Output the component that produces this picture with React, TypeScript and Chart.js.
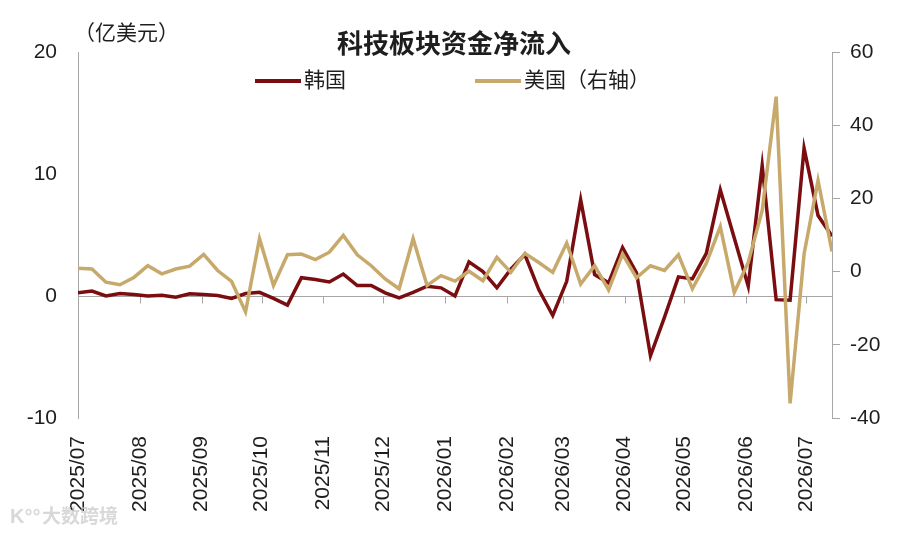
import React, { useEffect, useRef } from "react";
import { Chart, registerables } from "chart.js";

Chart.register(...registerables);

// ---- data ----
const weekDates = [
  "2025-07-04", "2025-07-11", "2025-07-18", "2025-07-25",
  "2025-08-01", "2025-08-08", "2025-08-15", "2025-08-22", "2025-08-29",
  "2025-09-05", "2025-09-12", "2025-09-19", "2025-09-26",
  "2025-10-03", "2025-10-10", "2025-10-17", "2025-10-24", "2025-10-31",
  "2025-11-07", "2025-11-14", "2025-11-21", "2025-11-28",
  "2025-12-05", "2025-12-12", "2025-12-19", "2025-12-26",
  "2026-01-02", "2026-01-09", "2026-01-16", "2026-01-23", "2026-01-30",
  "2026-02-06", "2026-02-13", "2026-02-20", "2026-02-27",
  "2026-03-06", "2026-03-13", "2026-03-20", "2026-03-27",
  "2026-04-03", "2026-04-10", "2026-04-17", "2026-04-24",
  "2026-05-01", "2026-05-08", "2026-05-15", "2026-05-22", "2026-05-29",
  "2026-06-05", "2026-06-12", "2026-06-19", "2026-06-26",
  "2026-07-03", "2026-07-10", "2026-07-17",
];

// 韩国 (亿美元, left axis)
const koreaFlow = [
  0.26, 0.4, 0.0, 0.2, 0.12, 0.0, 0.07, -0.1, 0.18, 0.12, 0.04, -0.2, 0.2,
  0.3, -0.2, -0.75, 1.5, 1.35, 1.15, 1.8, 0.86, 0.86, 0.26, -0.15, 0.3,
  0.8, 0.67, 0.0, 2.8, 2.0, 0.67, 2.2, 3.4, 0.53, -1.6, 1.2, 7.9,
  1.76, 1.08, 3.96, 1.9, -4.9, -1.76, 1.57, 1.4, 3.5, 8.7, 4.75, 0.8,
  10.7, -0.3, -0.35, 12.1, 6.6, 4.9,
];

// 美国 (亿美元, right axis)
const usFlow = [
  0.9, 0.7, -2.9, -3.6, -1.6, 1.6, -0.6, 0.7, 1.5, 4.7, 0.3, -2.7, -11,
  9.0, -3.8, 4.6, 4.8, 3.3, 5.3, 9.9, 4.6, 1.6, -2.0, -4.7, 9.0,
  -3.8, -1.1, -2.6, 0.1, -2.5, 3.9, -0.2, 5.0, 2.5, -0.2, 7.8, -3.4,
  1.6, -5.0, 4.8, -1.7, 1.6, 0.3, 4.6, -4.7, 2.3, 12.3, -5.7, 2.5,
  16.7, 47.8, -36, 4.8, 24.9, 5.5,
];

const monthTickDates = [
  "2025-07-04", "2025-08-04", "2025-09-04", "2025-10-04", "2025-11-04",
  "2025-12-04", "2026-01-04", "2026-02-04", "2026-03-04", "2026-04-04",
  "2026-05-04", "2026-06-04", "2026-07-04",
];
const monthTickLabels = [
  "2025/07", "2025/08", "2025/09", "2025/10", "2025/11", "2025/12",
  "2026/01", "2026/02", "2026/03", "2026/04", "2026/05", "2026/06", "2026/07",
];

const seriesNames = ["韩国", "美国（右轴）"];
const chartTitle = "科技板块资金净流入";
const unitLabel = "（亿美元）";
const watermark = "大数跨境";

const leftMin = -10, leftMax = 20, leftStep = 10;
const rightMin = -40, rightMax = 60, rightStep = 20;

// ---- styles ----
const RED = "#7a0d10";
const TAN = "#c8a96c";
const AXIS = "#a6a6a6";
const TEXT = "#1e1e1e";
const FONT = '"Liberation Sans", "Noto Sans CJK SC", Arial, sans-serif';

const DAY = 86400000;
const t0 = Date.parse(weekDates[0]);
const toDay = (d: string) => (Date.parse(d) - t0) / DAY;

const overlayPlugin = {
  id: "overlay",
  beforeDatasetsDraw(chart: any) {
    const { ctx, chartArea, scales } = chart;
    const y0 = Math.round(scales.y.getPixelForValue(0)) + 0.5;
    ctx.save();
    ctx.strokeStyle = AXIS;
    ctx.lineWidth = 1;
    ctx.beginPath();
    ctx.moveTo(chartArea.left, y0);
    ctx.lineTo(chartArea.right, y0);
    scales.x.ticks.forEach((t: any) => {
      const x = Math.round(scales.x.getPixelForValue(t.value)) + 0.5;
      ctx.moveTo(x, y0);
      ctx.lineTo(x, y0 + 7);
    });
    ctx.stroke();
    ctx.restore();
  },
  afterDraw(chart: any) {
    const { ctx } = chart;
    ctx.save();
    // title
    ctx.fillStyle = TEXT;
    ctx.font = `bold 26px ${FONT}`;
    ctx.textAlign = "center";
    ctx.textBaseline = "middle";
    ctx.fillText(chartTitle, 454, 46);
    // unit
    ctx.font = `21px ${FONT}`;
    ctx.textAlign = "left";
    ctx.fillText(unitLabel, 74, 34);
    // legend
    const items = [
      { name: seriesNames[0], color: RED, x: 255 },
      { name: seriesNames[1], color: TAN, x: 475 },
    ];
    items.forEach((it) => {
      ctx.strokeStyle = it.color;
      ctx.lineWidth = 4;
      ctx.beginPath();
      ctx.moveTo(it.x, 81);
      ctx.lineTo(it.x + 46, 81);
      ctx.stroke();
      ctx.fillStyle = TEXT;
      ctx.font = `21px ${FONT}`;
      ctx.textAlign = "left";
      ctx.textBaseline = "middle";
      ctx.fillText(it.name, it.x + 49, 81);
    });
    // watermark
    ctx.fillStyle = "rgba(200,200,200,0.7)";
    ctx.font = `bold 19px ${FONT}`;
    ctx.fillText(watermark, 42, 518);
    ctx.font = `bold 20px ${FONT}`;
    ctx.fillText("K°°", 10, 517);
    ctx.restore();
  },
};

export default function App() {
  const ref = useRef<HTMLCanvasElement | null>(null);

  useEffect(() => {
    if (!ref.current) return;
    const xs = weekDates.map(toDay);
    const tickDays = monthTickDates.map(toDay);
    const labelFor = (v: number) => {
      const i = tickDays.findIndex((d) => Math.abs(d - v) < 0.01);
      return i >= 0 ? monthTickLabels[i] : "";
    };
    const chart = new Chart(ref.current, {
      type: "line",
      data: {
        datasets: [
          {
            label: seriesNames[0],
            data: xs.map((x, i) => ({ x, y: koreaFlow[i] })),
            borderColor: RED,
            backgroundColor: RED,
            borderWidth: 3.5,
            pointRadius: 0,
            tension: 0,
            yAxisID: "y",
            order: 1,
          },
          {
            label: seriesNames[1],
            data: xs.map((x, i) => ({ x, y: usFlow[i] })),
            borderColor: TAN,
            backgroundColor: TAN,
            borderWidth: 3.5,
            pointRadius: 0,
            tension: 0,
            yAxisID: "y1",
            order: 0,
          },
        ],
      },
      options: {
        animation: false,
        responsive: false,
        maintainAspectRatio: false,
        layout: { padding: { top: 52, left: 0, right: 0, bottom: 0 } },
        plugins: {
          legend: { display: false },
          title: { display: false },
          tooltip: { enabled: false },
        },
        scales: {
          x: {
            type: "linear",
            bounds: "data",
            min: xs[0],
            max: xs[xs.length - 1],
            afterBuildTicks: (scale: any) => {
              scale.ticks = tickDays.map((v) => ({ value: v }));
            },
            afterFit: (scale: any) => {
              scale.height = 115;
            },
            grid: { display: false },
            border: { display: false },
            ticks: {
              autoSkip: false,
              maxRotation: 90,
              minRotation: 90,
              padding: 10,
              color: TEXT,
              font: { family: FONT, size: 21 },
              callback: (v: any) => labelFor(Number(v)),
            },
          },
          y: {
            position: "left",
            min: leftMin,
            max: leftMax,
            afterFit: (scale: any) => {
              scale.width = 78;
            },
            grid: { display: false },
            border: { display: true, color: AXIS, width: 1 },
            ticks: {
              stepSize: leftStep,
              padding: 13,
              color: TEXT,
              font: { family: FONT, size: 21 },
            },
          },
          y1: {
            position: "right",
            min: rightMin,
            max: rightMax,
            afterFit: (scale: any) => {
              scale.width = 68;
            },
            grid: {
              display: true,
              drawOnChartArea: false,
              drawTicks: true,
              tickLength: 8,
              color: AXIS,
            },
            border: { display: true, color: AXIS, width: 1 },
            ticks: {
              stepSize: rightStep,
              padding: 10,
              color: TEXT,
              font: { family: FONT, size: 21 },
            },
          },
        },
      },
      plugins: [overlayPlugin],
    } as any);
    return () => chart.destroy();
  }, []);

  return (
    <div style={{ position: "absolute", left: 0, top: 0, width: 900, height: 533, background: "#fff" }}>
      <canvas ref={ref} width={900} height={533} style={{ width: 900, height: 533 }} />
    </div>
  );
}
